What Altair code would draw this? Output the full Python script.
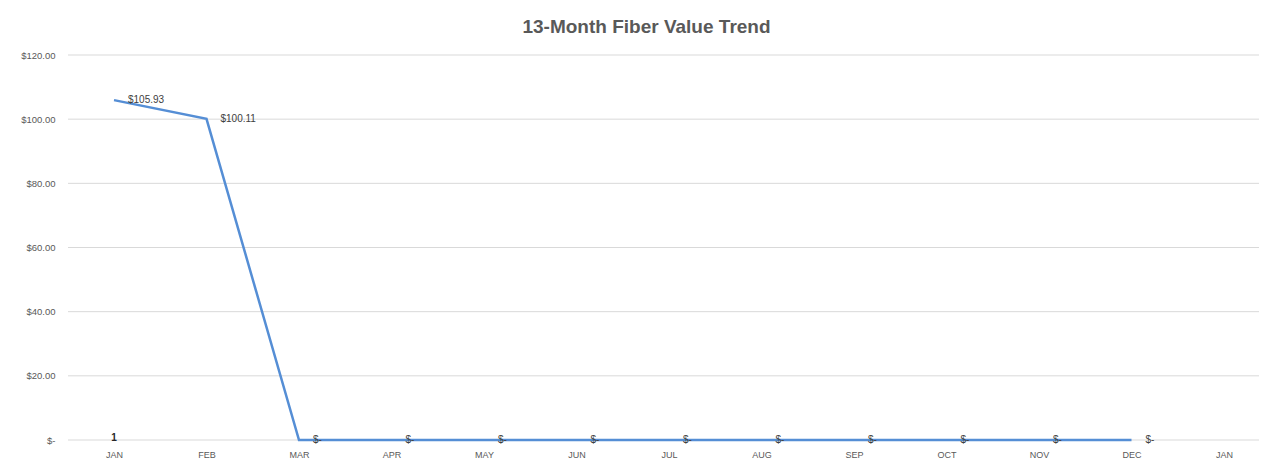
import altair as alt
import pandas as pd

months = ["JAN", "FEB", "MAR", "APR", "MAY", "JUN", "JUL", "AUG", "SEP", "OCT", "NOV", "DEC", "JAN"]
values = [105.93, 100.11, 0, 0, 0, 0, 0, 0, 0, 0, 0, 0, None]
y_ticks = [0, 20, 40, 60, 80, 100, 120]
extra_label_month = 0
extra_label_text = "1"

df = pd.DataFrame({"idx": list(range(len(months))), "month": months, "value": values})
line_df = df.dropna()
extra_df = pd.DataFrame({"idx": [extra_label_month], "value": [0], "txt": [extra_label_text]})
grid_df = pd.DataFrame({"value": y_ticks})

label_expr = "[" + ",".join("'%s'" % m for m in months) + "][datum.value]"
font = "Liberation Sans"
grey = "#595959"
W, H = 1191, 385

x_enc = alt.X("idx:O", scale=alt.Scale(type="point", domain=list(range(len(months))),
                                       range=[46, 1156], padding=0),
              axis=alt.Axis(title=None, labelExpr=label_expr, ticks=False, domain=False,
                            labelAngle=0, labelFont=font, labelFontSize=9, labelColor=grey,
                            labelPadding=10, grid=False))
y_scale = alt.Scale(domain=[0, 120], nice=False)
y_enc = alt.Y("value:Q", scale=y_scale,
              axis=alt.Axis(title=None, values=y_ticks,
                            labelExpr="datum.value == 0 ? '$-' : '$' + format(datum.value, ',.2f')",
                            ticks=False, domain=False, labelFont=font, labelFontSize=9.5,
                            labelColor=grey, labelPadding=13, grid=False))

grid = alt.Chart(grid_df).mark_rule(color="#d9d9d9", strokeWidth=1).encode(
    y=alt.Y("value:Q", scale=y_scale), x=alt.value(0), x2=alt.value(W))

line = alt.Chart(line_df).mark_line(color="#558ED5", strokeWidth=2.5).encode(x=x_enc, y=y_enc)

labels = alt.Chart(line_df).transform_calculate(
    lab="datum.value == 0 ? '$-' : '$' + format(datum.value, ',.2f')"
).mark_text(align="left", baseline="middle", dx=14, font=font, fontSize=10, color="#404040").encode(
    x=x_enc, y=y_enc, text="lab:N")

extra = alt.Chart(extra_df).mark_text(align="center", baseline="middle", dy=-2, font=font,
                                      fontSize=10, fontWeight="bold", color="#262626").encode(
    x=x_enc, y=y_enc, text="txt:N")

chart = alt.layer(grid, line, labels, extra).properties(
    width=W, height=H,
    title=alt.TitleParams("13-Month Fiber Value Trend", font=font, fontSize=19, fontWeight="bold",
                          color=grey, anchor="middle", dx=-17, offset=13),
    autosize=alt.AutoSizeParams(type="none"),
    padding={"left": 60, "top": 47, "right": 0, "bottom": 20},
).configure(background="white", view=alt.ViewConfig(stroke=None))

chart.save("out.html", embed_options={"renderer": "svg", "actions": False})
